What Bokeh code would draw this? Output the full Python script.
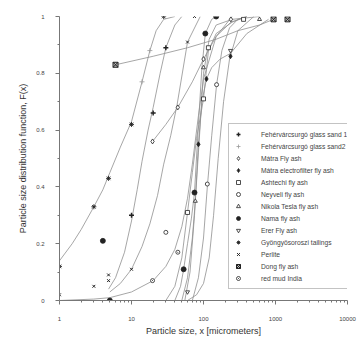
from bokeh.plotting import figure
from bokeh.models import Range1d, FixedTicker, CustomJSTickFormatter, Legend, LegendItem
from bokeh.embed import file_html
from bokeh.resources import INLINE

# ---- data (x in micrometers, F = cumulative fraction) ----
sand1_x = [10, 20, 30]
sand1_F = [0.30, 0.66, 0.89]
sand1_cx = [4.8, 6, 8, 10, 12, 14, 17, 20, 25, 30, 40, 50]
sand1_cF = [0.04, 0.08, 0.17, 0.28, 0.39, 0.49, 0.60, 0.68, 0.80, 0.89, 0.97, 1.0]

sand2_x = [14, 18]
sand2_F = [0.77, 0.88]

matra_x = [19.6, 44, 100, 240]
matra_F = [0.56, 0.68, 0.85, 0.99]
matra_cx = [19.6, 30, 44, 70, 100, 150, 240, 400]
matra_cF = [0.56, 0.62, 0.68, 0.77, 0.85, 0.93, 0.98, 1.0]

electro_x = [85, 110, 237]
electro_F = [0.55, 0.78, 0.86]
electro_cx = [55, 65, 75, 85, 95, 110, 130, 170, 237, 400, 800]
electro_cF = [0.0, 0.1, 0.3, 0.55, 0.7, 0.78, 0.82, 0.85, 0.87, 0.94, 0.99]

ashtechi_x = [60, 100, 117, 360]
ashtechi_F = [0.31, 0.71, 0.89, 0.99]
ashtechi_cx = [30, 40, 50, 60, 70, 80, 100, 117, 150, 250, 400]
ashtechi_cF = [0.0, 0.05, 0.15, 0.31, 0.45, 0.57, 0.71, 0.88, 0.94, 0.98, 1.0]

neyveli_x = [30, 113, 152]
neyveli_F = [0.24, 0.41, 0.76]
neyveli_cx = [70, 85, 100, 113, 130, 152, 180, 230, 300, 400]
neyveli_cF = [0.0, 0.08, 0.22, 0.40, 0.58, 0.76, 0.88, 0.96, 0.99, 1.0]

tesla_x = [77, 100, 600]
tesla_F = [0.35, 0.82, 0.99]
tesla_cx = [50, 60, 70, 77, 85, 100, 120, 150, 250, 600]
tesla_cF = [0.0, 0.08, 0.22, 0.35, 0.52, 0.80, 0.92, 0.97, 0.99, 1.0]

nama_x = [4, 5, 53, 75, 106, 150]
nama_F = [0.21, 0.0, 0.11, 0.38, 0.94, 1.0]
nama_cx = [40, 48, 53, 60, 68, 75, 85, 95, 106, 130, 150]
nama_cF = [0.0, 0.05, 0.11, 0.2, 0.29, 0.38, 0.62, 0.82, 0.94, 0.99, 1.0]

erer_x = [60, 237]
erer_F = [0.03, 0.88]
erer_cx = [60, 80, 100, 120, 138, 160, 190, 230, 300, 500]
erer_cF = [0.0, 0.02, 0.06, 0.15, 0.30, 0.50, 0.70, 0.85, 0.95, 1.0]

gyongy_x = [1, 3, 4.8, 10, 28]
gyongy_F = [0.12, 0.33, 0.43, 0.62, 1.0]
gyongy_cx = [1, 1.5, 2, 3, 4, 5, 7, 10, 14, 18, 22, 28, 40]
gyongy_cF = [0.14, 0.2, 0.25, 0.33, 0.39, 0.45, 0.54, 0.63, 0.77, 0.88, 0.95, 0.99, 1.0]

perlite_x = [1, 3, 4.8, 4.8, 10, 60, 75]
perlite_F = [0.02, 0.05, 0.07, 0.09, 0.11, 0.91, 1.0]
perlite_cx = [5, 7, 10, 14, 18, 23, 28, 35, 43, 60, 90]
perlite_cF = [0.03, 0.06, 0.11, 0.19, 0.27, 0.37, 0.48, 0.58, 0.69, 0.91, 1.0]

dong_x = [6, 940, 1470]
dong_F = [0.83, 0.99, 0.99]
dong_cx = [6, 20, 60, 150, 300, 600, 940]
dong_cF = [0.83, 0.86, 0.89, 0.92, 0.95, 0.97, 0.99]

redmud_x = [19.6, 44]
redmud_F = [0.07, 0.17]
redmud_cx = [1, 3, 5, 10, 20, 30, 40, 50, 60, 70, 85, 100, 150, 250]
redmud_cF = [0.0, 0.005, 0.01, 0.03, 0.07, 0.12, 0.18, 0.26, 0.36, 0.48, 0.65, 0.78, 0.93, 1.0]

x_ticks = [1, 10, 100, 1000, 10000]
y_ticks = [0, 0.2, 0.4, 0.6, 0.8, 1]

FONT = "Liberation Sans"
LINE = "#8f8f8f"
INK = "#222222"

p = figure(width=360, height=338, x_axis_type="log",
           x_range=Range1d(1, 10000), y_range=Range1d(0, 1),
           output_backend="svg", toolbar_location=None,
           min_border_left=59, min_border_right=13, min_border_top=16, min_border_bottom=35)
p.outline_line_color = None
p.grid.visible = False
p.background_fill_color = "white"

curves = [(sand1_cx, sand1_cF), (matra_cx, matra_cF), (electro_cx, electro_cF),
          (ashtechi_cx, ashtechi_cF), (neyveli_cx, neyveli_cF), (tesla_cx, tesla_cF),
          (nama_cx, nama_cF), (erer_cx, erer_cF), (gyongy_cx, gyongy_cF),
          (perlite_cx, perlite_cF), (dong_cx, dong_cF), (redmud_cx, redmud_cF)]
for cx, cF in curves:
    p.line(cx, cF, line_color=LINE, line_width=0.8)

series = [
    ("Fehérvárcsurgó glass sand 1", sand1_x, sand1_F, "cross", INK, INK, 1.4, 5),
    ("Fehérvárcsurgó glass sand2", sand2_x, sand2_F, "cross", "#999999", "#999999", 0.8, 5),
    ("Mátra Fly ash", matra_x, matra_F, "diamond", INK, "white", 0.8, 5),
    ("Mátra electrofilter fly ash", electro_x, electro_F, "diamond", INK, INK, 0.8, 5),
    ("Ashtechi fly ash", ashtechi_x, ashtechi_F, "square", INK, "white", 0.8, 4),
    ("Neyveli fly ash", neyveli_x, neyveli_F, "circle", INK, "white", 0.8, 4),
    ("Nikola Tesla fly ash", tesla_x, tesla_F, "triangle", INK, "white", 0.8, 4),
    ("Nama fly ash", nama_x, nama_F, "circle", INK, INK, 0.8, 5),
    ("Erer Fly ash", erer_x, erer_F, "inverted_triangle", INK, "white", 0.8, 4),
    ("Gyöngyösoroszi tailings", gyongy_x, gyongy_F, "asterisk", INK, INK, 0.9, 5),
    ("Perlite", perlite_x, perlite_F, "x", INK, INK, 1.0, 4),
    ("Dong fly ash", dong_x, dong_F, "square_x", INK, "#bbbbbb", 1.0, 5),
    ("red mud India", redmud_x, redmud_F, "circle_dot", INK, "white", 0.8, 4),
]
items = []
for name, xs, fs, marker, lc, fc, lw, sz in series:
    r = p.scatter(xs, fs, marker=marker, size=sz, line_color=lc, fill_color=fc, line_width=lw)
    items.append(LegendItem(label=name, renderers=[r]))

legend = Legend(items=items, location=(169, 11), margin=0, padding=4,
                spacing=0, glyph_width=10, glyph_height=12, label_height=12,
                label_standoff=18, label_text_font=FONT, label_text_font_size="6.7px",
                label_text_color="#444444", border_line_color="#888888",
                border_line_width=1, background_fill_color="white", background_fill_alpha=1)
p.add_layout(legend, "center")

p.xaxis.ticker = FixedTicker(ticks=x_ticks,
                             minor_ticks=[m * d for d in [1, 10, 100, 1000] for m in range(2, 10)])
p.xaxis.formatter = CustomJSTickFormatter(code="return tick.toFixed(0);")
p.yaxis.ticker = FixedTicker(ticks=y_ticks, minor_ticks=[0.1, 0.3, 0.5, 0.7, 0.9])
p.yaxis.formatter = CustomJSTickFormatter(code="return String(Math.round(tick*10)/10);")

for ax in (p.xaxis[0], p.yaxis[0]):
    ax.axis_line_color = "#777777"
    ax.major_tick_line_color = "#777777"
    ax.minor_tick_line_color = "#777777"
    ax.major_tick_in = 0
    ax.major_tick_out = 4
    ax.minor_tick_in = 0
    ax.minor_tick_out = 2
    ax.major_label_text_font = FONT
    ax.major_label_text_font_size = "6px"
    ax.major_label_text_color = "#444444"
    ax.axis_label_text_font = FONT
    ax.axis_label_text_font_size = "9px"
    ax.axis_label_text_font_style = "normal"
    ax.axis_label_text_color = "#333333"

p.xaxis.axis_label = "Particle size, x [micrometers]"
p.yaxis.axis_label = "Particle size distribution function, F(x)"
p.xaxis.major_label_standoff = 12
p.xaxis.axis_label_standoff = 2
p.yaxis.major_label_standoff = 11
p.yaxis.axis_label_standoff = 5

open("out.html", "w").write(file_html(p, INLINE))
